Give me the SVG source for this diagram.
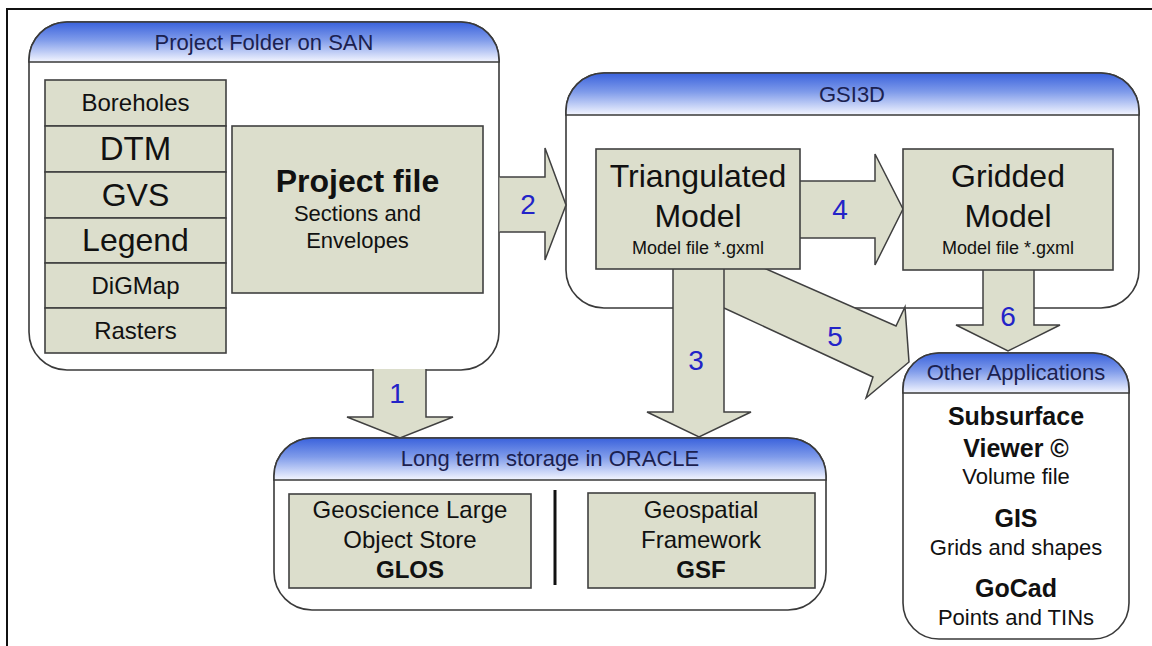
<svg xmlns="http://www.w3.org/2000/svg" width="1152" height="646" viewBox="0 0 1152 646">
<defs>
<linearGradient id="hdr" x1="0" y1="0" x2="0" y2="1">
<stop offset="0" stop-color="#3a62dc"/>
<stop offset="0.45" stop-color="#7f9bea"/>
<stop offset="1" stop-color="#f4f6ff"/>
</linearGradient>
<style>
.frame{fill:none;stroke:#111;stroke-width:2}
.cont{fill:#fff;stroke:#3a3a3a;stroke-width:1.6}
.hdr{fill:url(#hdr);stroke:#3a3a3a;stroke-width:1.6}
.box{fill:#dcdecc;stroke:#404040;stroke-width:1.6}
.arr{fill:#dcdecc;stroke:#404040;stroke-width:1.5;stroke-linejoin:miter}
text{font-family:"Liberation Sans",Arial,sans-serif;text-anchor:middle;fill:#111}
.ttl{font-size:22px;fill:#1b2150}
.num{font-size:28px;fill:#2323c8}
.b{font-weight:bold}
</style>
</defs>
<rect width="1152" height="646" fill="#fff"/>
<rect class="frame" x="7" y="9" width="1160" height="660"/>

<g id="project-folder">
<rect class="cont" x="29" y="22" width="470" height="348" rx="38" ry="38"/>
<path class="hdr" d="M29,62 V60 A38,38 0 0 1 67,22 H461 A38,38 0 0 1 499,60 V62 Z"/>
<text class="ttl" x="264" y="50">Project Folder on SAN</text>
</g>
<g id="gsi3d">
<rect class="cont" x="566" y="73" width="573" height="235" rx="38" ry="38"/>
<path class="hdr" d="M566,115 V111 A38,38 0 0 1 604,73 H1101 A38,38 0 0 1 1139,111 V115 Z"/>
<text class="ttl" x="852" y="102">GSI3D</text>
</g>
<g id="oracle">
<rect class="cont" x="274" y="438" width="552" height="172" rx="38" ry="38"/>
<path class="hdr" d="M274,480 V476 A38,38 0 0 1 312,438 H788 A38,38 0 0 1 826,476 V480 Z"/>
<text class="ttl" x="550" y="466">Long term storage in ORACLE</text>
</g>
<g id="other-apps">
<rect class="cont" x="903" y="353" width="226" height="286" rx="36" ry="36"/>
<path class="hdr" d="M903,393 V389 A36,36 0 0 1 939,353 H1093 A36,36 0 0 1 1129,389 V393 Z"/>
<text class="ttl" x="1016" y="380">Other Applications</text>
<text class="b" x="1016" y="425" font-size="25">Subsurface</text>
<text class="b" x="1016" y="457" font-size="25">Viewer ©</text>
<text x="1016" y="484" font-size="22">Volume file</text>
<text class="b" x="1016" y="527" font-size="25">GIS</text>
<text x="1016" y="555" font-size="22">Grids and shapes</text>
<text class="b" x="1016" y="597" font-size="25">GoCad</text>
<text x="1016" y="625" font-size="22">Points and TINs</text>
</g>

<g id="connectors">
<path class="arr" d="M373,369 V417 H347 L400,438 L453,417 H426 V369"/>
<path class="arr" d="M499.5,177 H545 V148 L566,205 L545,260 V232 H499.5"/>
<path class="arr" d="M724,308 L873,377 L866,398 L909,362 L905,307 L896,326 L764,268 L720,268"/>
<path class="arr" d="M673,266 V412 H647 L699,437 L751,412 H724 V266"/>
<path class="arr" d="M797,181 H875 V154 L903,209 L875,265 V238 H797"/>
<path class="arr" d="M983,266 V325 H956 L1008,351 L1060,325 H1034 V266"/>
</g>

<g id="boreholes"><rect class="box" x="45" y="80" width="181" height="46"/><text x="135.5" y="111" font-size="24">Boreholes</text></g>
<g id="dtm"><rect class="box" x="45" y="126" width="181" height="46"/><text x="135.5" y="160" font-size="33">DTM</text></g>
<g id="gvs"><rect class="box" x="45" y="172" width="181" height="46"/><text x="135.5" y="206" font-size="32">GVS</text></g>
<g id="legend"><rect class="box" x="45" y="218" width="181" height="45"/><text x="135.5" y="251" font-size="32">Legend</text></g>
<g id="digmap"><rect class="box" x="45" y="263" width="181" height="45"/><text x="135.5" y="294" font-size="24">DiGMap</text></g>
<g id="rasters"><rect class="box" x="45" y="308" width="181" height="45"/><text x="135.5" y="339" font-size="24">Rasters</text></g>

<g id="project-file">
<rect class="box" x="232" y="126" width="251" height="167"/>
<text class="b" x="357.5" y="192" font-size="32">Project file</text>
<text x="357.5" y="221" font-size="22">Sections and</text>
<text x="357.5" y="248" font-size="22">Envelopes</text>
</g>

<g id="triangulated">
<rect class="box" x="596" y="149" width="204" height="120"/>
<text x="698" y="187" font-size="32">Triangulated</text>
<text x="698" y="227" font-size="32">Model</text>
<text x="698" y="254" font-size="18">Model file *.gxml</text>
</g>
<g id="gridded">
<rect class="box" x="903" y="149" width="210" height="121"/>
<text x="1008" y="187" font-size="32">Gridded</text>
<text x="1008" y="227" font-size="32">Model</text>
<text x="1008" y="254" font-size="18">Model file *.gxml</text>
</g>

<g id="glos">
<rect class="box" x="289" y="494" width="242" height="94"/>
<text x="410" y="518" font-size="24">Geoscience Large</text>
<text x="410" y="548" font-size="24">Object Store</text>
<text class="b" x="410" y="578" font-size="24">GLOS</text>
</g>
<line x1="555" y1="490" x2="555" y2="585" stroke="#111" stroke-width="3"/>
<g id="gsf">
<rect class="box" x="588" y="493" width="227" height="95"/>
<text x="701" y="518" font-size="24">Geospatial</text>
<text x="701" y="548" font-size="24">Framework</text>
<text class="b" x="701" y="578" font-size="24">GSF</text>
</g>

<g id="connector-labels">
<text class="num" x="397" y="403">1</text>
<text class="num" x="528" y="214">2</text>
<text class="num" x="696" y="370">3</text>
<text class="num" x="840" y="219">4</text>
<text class="num" x="835" y="346">5</text>
<text class="num" x="1008" y="326">6</text>
</g>
</svg>
